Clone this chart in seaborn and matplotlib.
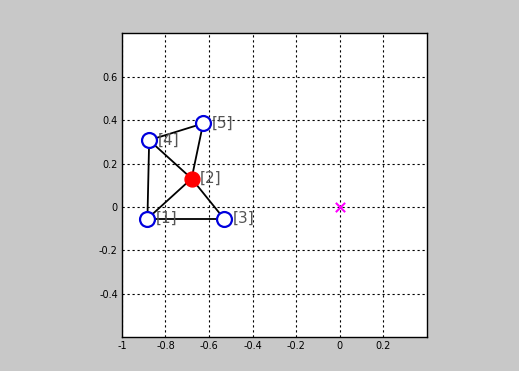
import matplotlib
matplotlib.use("Agg")
import matplotlib.pyplot as plt
import seaborn as sns
import pandas as pd

# Node positions of the graph
node_ids = [1, 2, 3, 4, 5]
node_x = [-0.883, -0.680, -0.531, -0.875, -0.627]
node_y = [-0.054, 0.131, -0.054, 0.308, 0.385]
node_kind = ["open", "hub", "open", "open", "open"]

# Edges as pairs of node ids
edges = [(1, 4), (4, 5), (4, 2), (5, 2), (2, 1), (2, 3), (1, 3)]

# Reference point
origin_x = [0.0]
origin_y = [0.0]

x_ticks = [-1, -0.8, -0.6, -0.4, -0.2, 0, 0.2]
x_ticklabels = ["-1", "-0.8", "-0.6", "-0.4", "-0.2", "0", "0.2"]
y_ticks = [-0.4, -0.2, 0, 0.2, 0.4, 0.6]
y_ticklabels = ["-0.4", "-0.2", "0", "0.2", "0.4", "0.6"]

sns.set_style("white")
plt.rcParams["font.family"] = ["DejaVu Sans"]
plt.rcParams["axes.unicode_minus"] = False

nodes = pd.DataFrame({"id": node_ids, "x": node_x, "y": node_y, "kind": node_kind})
pos = {r.id: (r.x, r.y) for r in nodes.itertuples()}

fig = plt.figure(figsize=(5.19, 3.71), dpi=100, facecolor="#c8c8c8")
ax = fig.add_axes([0.235, 0.091, 0.587, 0.819])
ax.set_facecolor("white")

# Edges
for a, b in edges:
    seg = pd.DataFrame({"x": [pos[a][0], pos[b][0]], "y": [pos[a][1], pos[b][1]]})
    sns.lineplot(data=seg, x="x", y="y", ax=ax, color="black", lw=1.3,
                 sort=False, estimator=None, zorder=2)

# Nodes
open_nodes = nodes[nodes.kind == "open"]
hub_nodes = nodes[nodes.kind == "hub"]
sns.scatterplot(data=open_nodes, x="x", y="y", ax=ax, s=115, marker="o",
                facecolor="white", edgecolor="#0000dd", linewidth=1.6, zorder=3)
sns.scatterplot(data=hub_nodes, x="x", y="y", ax=ax, s=115, marker="o",
                color="red", edgecolor="red", linewidth=1.0, zorder=3)

for r in nodes.itertuples():
    ax.text(r.x + 0.038, r.y, f"[{r.id}]", fontsize=11, color="#555555",
            va="center", ha="left", zorder=4)

sns.scatterplot(x=origin_x, y=origin_y, ax=ax, marker="x", s=45,
                color="magenta", linewidth=1.5, zorder=3)

ax.set_xlim(-1, 0.4)
ax.set_ylim(-0.6, 0.8)
ax.set_xticks(x_ticks)
ax.set_xticklabels(x_ticklabels)
ax.set_yticks(y_ticks)
ax.set_yticklabels(y_ticklabels)
ax.set_xlabel("")
ax.set_ylabel("")
ax.tick_params(direction="in", length=3, labelsize=7, colors="black", pad=3)
ax.grid(True, color="black", linestyle=(0, (2, 2.5)), linewidth=0.8)
ax.set_axisbelow(True)
for s in ax.spines.values():
    s.set_visible(True)
    s.set_color("black")
    s.set_linewidth(1.0)

fig.savefig("out.png", dpi=100, facecolor=fig.get_facecolor())
